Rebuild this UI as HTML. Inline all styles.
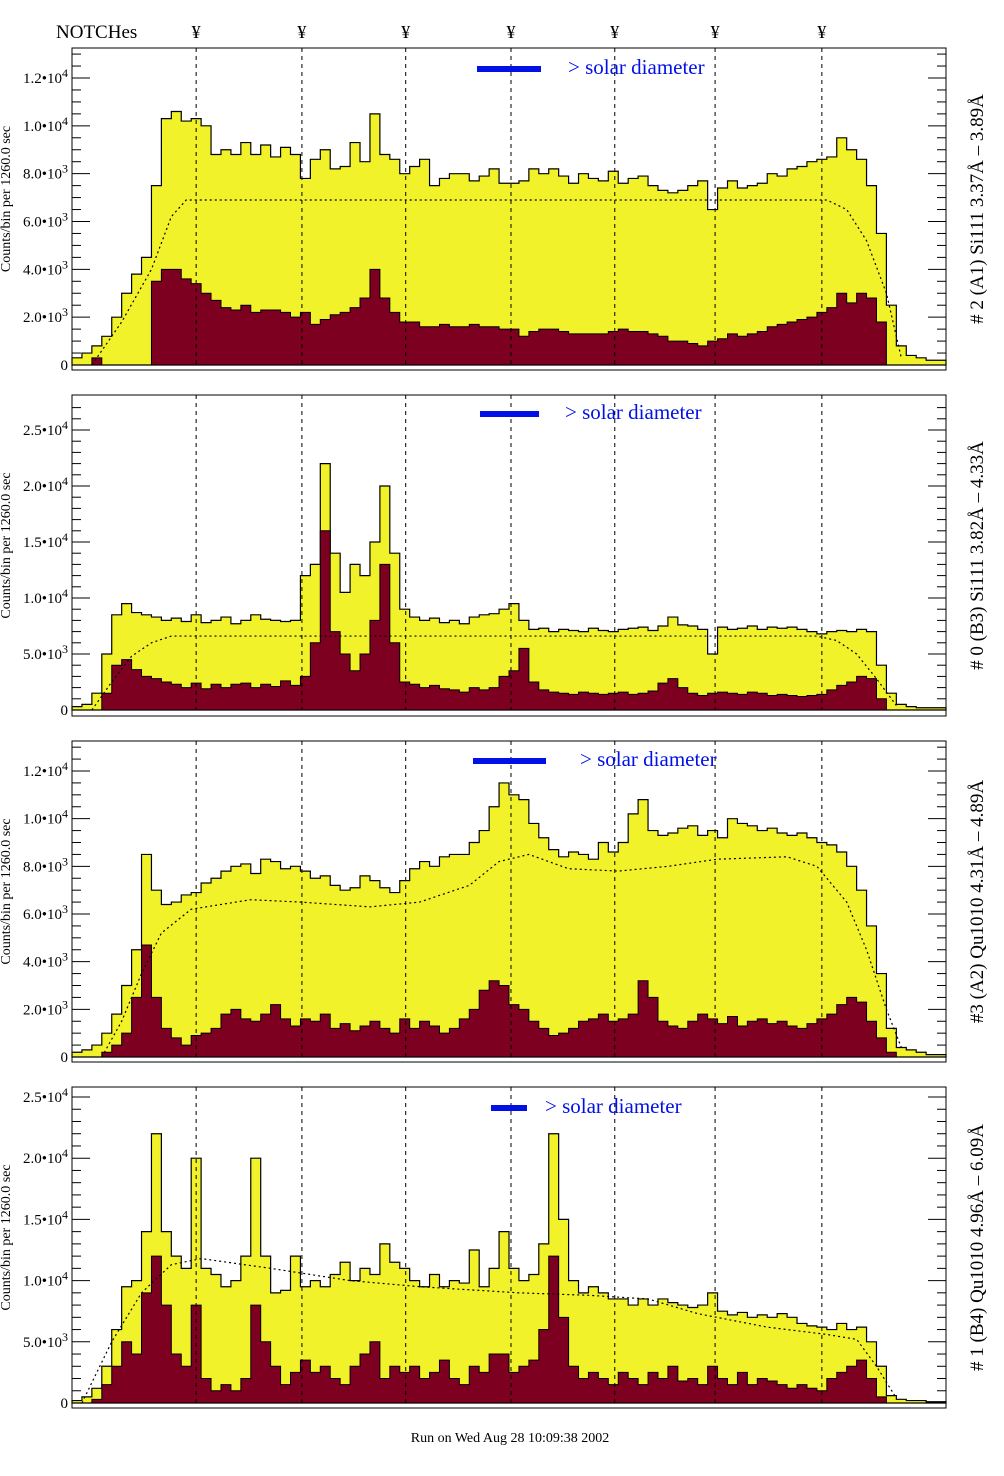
<!DOCTYPE html>
<html><head><meta charset="utf-8"><style>
html,body{margin:0;padding:0;background:#fff;}
svg{display:block;font-family:"Liberation Serif",serif;}
</style></head><body>
<svg id="chart" width="1004" height="1476" viewBox="0 0 1004 1476" xmlns="http://www.w3.org/2000/svg">
<text x="56" y="38" font-size="19">NOTCHes</text>
<text x="510" y="1442" font-size="14" text-anchor="middle">Run on Wed Aug 28 10:09:38 2002</text>
</svg>
<script>
// ---- data (units of 1e3 counts per bin, bins of equal width across the x range) ----
const notchPositions = [12.5, 23.15, 33.6, 44.2, 54.65, 64.75, 75.5];
const p1Yellow = [0.3,0.5,0.8,1.2,2.0,3.0,3.8,4.5,7.5,10.3,10.6,10.2,10.3,10.0,8.8,9.0,8.8,9.3,8.8,9.2,8.7,9.1,8.8,7.8,8.6,9.0,8.2,8.3,9.3,8.5,10.5,8.8,8.6,8.0,8.3,8.6,7.5,7.8,8.0,8.0,7.7,7.9,8.2,7.6,7.6,7.7,8.2,8.0,8.2,7.9,7.6,8.0,7.8,7.7,8.1,7.6,7.8,7.9,7.5,7.3,7.2,7.3,7.5,7.7,6.5,7.4,7.7,7.4,7.5,7.6,8.0,7.9,8.2,8.3,8.5,8.6,8.7,9.5,9.0,8.6,7.5,5.5,2.5,0.8,0.4,0.3,0.2,0.2];
const p1Red = [0,0,0.3,0,0,0,0,0,3.5,4.0,4.0,3.6,3.4,3.0,2.7,2.4,2.3,2.5,2.2,2.3,2.3,2.2,2.0,2.2,1.7,1.9,2.1,2.2,2.4,2.8,4.0,2.8,2.2,1.8,1.8,1.6,1.6,1.7,1.6,1.6,1.7,1.6,1.6,1.5,1.5,1.2,1.4,1.5,1.5,1.4,1.3,1.3,1.3,1.3,1.4,1.5,1.4,1.4,1.3,1.2,1.0,1.0,0.9,0.8,1.0,1.1,1.3,1.2,1.3,1.4,1.6,1.7,1.8,1.9,2.0,2.2,2.4,3.0,2.6,3.0,2.8,1.8,0,0,0,0,0,0];
const p1DotX = [2,5,8,10,11.5,76,78,80,82,83.5];
const p1DotY = [0,1.8,4,6.2,6.9,6.9,6.5,5.2,3,0.3];

const p2Yellow = [0.3,0.5,1.5,5,8.5,9.5,8.7,8.5,8.3,8.0,8.2,7.9,8.5,7.8,8.0,8.3,7.7,8.0,8.5,8.1,8.0,7.9,8.0,12,13,22,14,10.5,13,12,15,20,14,9,8.3,8.0,8.2,7.8,8.0,7.7,8.3,8.5,8.6,9.0,9.5,8.0,7.2,7.3,7.0,7.2,7.1,7.0,7.3,7.1,7.0,7.2,7.3,7.4,7.1,7.5,8.3,7.6,7.5,7.2,5,7.4,7.2,7.3,7.5,7.2,7.4,7.3,7.4,7.2,7.0,6.8,7.0,7.1,7.0,7.2,7.0,4.0,1.5,0.5,0.3,0.2,0.2,0.2];
const p2Red = [0,0,0,1.5,4.0,4.5,3.6,3.0,2.8,2.5,2.3,2.0,2.4,1.9,2.3,2.0,2.3,2.4,2.0,2.3,2.1,2.6,2.2,3.0,6,16,7,5,3.5,5,8,13,6,2.5,2.3,2.0,2.2,1.9,1.8,1.6,2.0,1.8,2.0,3.0,3.5,5.5,2.5,1.8,1.6,1.5,1.4,1.6,1.5,1.4,1.5,1.6,1.4,1.5,1.7,2.4,2.8,2.0,1.5,1.3,1.5,1.6,1.5,1.4,1.6,1.5,1.3,1.4,1.3,1.2,1.3,1.4,1.8,2.2,2.5,3.0,2.8,1.0,0,0,0,0,0,0];
const p2DotX = [2,4,6,8,10,75,77,79,81,83];
const p2DotY = [0,2.5,4.8,6,6.6,6.6,6.2,5,2.8,0.4];

const p3Yellow = [0.2,0.3,0.5,1.0,1.8,3.0,4.5,8.5,7.0,6.4,6.5,6.8,6.9,7.3,7.5,7.8,8.0,8.1,7.7,8.3,8.2,7.9,8.0,7.8,7.5,7.6,7.2,7.0,7.1,7.6,7.4,7.1,6.9,7.4,7.9,8.2,8.0,8.4,8.5,8.5,9.0,9.5,10.5,11.5,11.0,10.8,9.8,9.2,8.7,8.4,8.6,8.5,8.3,9.0,8.6,9.0,10.2,10.8,9.5,9.3,9.4,9.6,9.7,9.3,9.5,9.2,10.0,9.8,9.7,9.5,9.6,9.4,9.3,9.4,9.2,9.0,8.9,8.6,8.0,7.0,5.5,3.5,1.2,0.4,0.3,0.2,0.1,0.1];
const p3Red = [0,0,0,0.2,0.5,1.0,2.5,4.7,2.5,1.2,0.8,0.5,0.9,1.0,1.2,1.8,2.0,1.6,1.5,1.8,2.2,1.6,1.3,1.6,1.5,1.8,1.2,1.4,1.1,1.3,1.5,1.2,1.0,1.6,1.2,1.5,1.3,1.0,1.2,1.6,2.0,2.8,3.2,3.0,2.2,2.0,1.5,1.2,0.9,1.0,1.2,1.5,1.6,1.8,1.5,1.6,1.8,3.2,2.5,1.5,1.3,1.2,1.5,1.8,1.6,1.4,1.7,1.3,1.5,1.6,1.4,1.5,1.3,1.2,1.4,1.6,1.8,2.2,2.5,2.3,1.5,0.8,0.2,0,0,0,0,0];
const p3DotX = [3,5,7,9,12,18,23,30,35,40,43,46,50,55,60,65,72,75,78,80,82,83.5];
const p3DotY = [0,1.5,3.5,5.2,6.2,6.6,6.5,6.3,6.5,7.2,8.2,8.5,7.9,7.8,8.0,8.3,8.4,8.0,6.5,4.5,2.0,0.4];

const p4Yellow = [0.2,0.5,1.2,3.0,6.0,9.5,10.0,14.0,22,14,12,11,20,11,10.5,9.5,10,12,20,12,9,9.2,12,9.5,10,9.5,10.5,11.5,10.0,11.0,10.5,13,11.5,11,10,9.5,10.5,9.5,10,9.8,12.5,9.5,11,14,11,10,10.5,13,22,15,10,9,9.5,9.0,8.5,8.5,8.0,8.5,8.0,8.5,8.2,8.0,7.8,8.0,9.0,7.5,7.2,7.4,7.0,7.2,7.0,7.3,7.0,6.5,6.3,6.2,6.0,6.5,6.0,6.2,5.0,3.0,0.6,0.3,0.2,0.2,0.1,0.1];
const p4Red = [0,0,0.3,1.5,3,5,4,9,12,8,4,3,8,2,1,1.5,1,2,8,5,3,1.5,2.5,3.5,2.5,3,2,1.5,3,4,5,2,3,2.5,3,2,2.5,3.5,2,1.5,3,2.5,4,4,2.5,3,3.5,6,12,7,3,2,2.5,2,1.5,2.5,2,1.5,2.5,2,3,1.8,2,1.5,3,2,1.5,2.5,1.5,2,1.8,1.5,1.2,1.5,1.2,1,2,2.5,3,3.5,2,0.5,0,0,0,0,0,0];
const p4DotX = [1,4,7,10,13,20,28,35,45,52,58,63,70,76,79,81,83];
const p4DotY = [0,5,9,11.3,11.8,11.0,10.0,9.5,9.0,8.8,8.5,7.3,6.2,5.6,5.2,3,0.4];

const tickA = [0,2,4,6,8,10,12];
const tickAMant = ["0","2.0","4.0","6.0","8.0","1.0","1.2"];
const tickAExp = ["","3","3","3","3","4","4"];
const tickB = [0,5,10,15,20,25];
const tickBMant = ["0","5.0","1.0","1.5","2.0","2.5"];
const tickBExp = ["","3","4","4","4","4"];

const panelTitles = ["# 2 (A1) Si111  3.37Å – 3.89Å","# 0 (B3) Si111  3.82Å – 4.33Å","#3 (A2) Qu1010  4.31Å – 4.89Å","# 1 (B4) Qu1010 4.96Å – 6.09Å"];

// ---- layout ----
const NS = "http://www.w3.org/2000/svg";
const svg = document.getElementById("chart");
const X0 = 72, X1 = 946, NB = 88, BW = (X1 - X0) / NB;
function xs(b){ return X0 + b * BW; }
const panels = [
 {top:48, bot:370, zero:365, ppu:(365-78)/12, yel:p1Yellow, red:p1Red, dx:p1DotX, dy:p1DotY, ticks:tickA, tm:tickAMant, te:tickAExp, minor:0.5, max:13, bar:[477,541,69], sd:568},
 {top:395, bot:716, zero:710, ppu:(710-430)/25, yel:p2Yellow, red:p2Red, dx:p2DotX, dy:p2DotY, ticks:tickB, tm:tickBMant, te:tickBExp, minor:1, max:27.5, bar:[480,539,414], sd:565},
 {top:741, bot:1062, zero:1057, ppu:(1057-771)/12, yel:p3Yellow, red:p3Red, dx:p3DotX, dy:p3DotY, ticks:tickA, tm:tickAMant, te:tickAExp, minor:0.5, max:13, bar:[473,546,761], sd:580},
 {top:1087, bot:1408, zero:1403, ppu:(1403-1097)/25, yel:p4Yellow, red:p4Red, dx:p4DotX, dy:p4DotY, ticks:tickB, tm:tickBMant, te:tickBExp, minor:1, max:25.5, bar:[491,527,1108], sd:545}
];
function mk(tag, attrs, parent){ const e = document.createElementNS(NS, tag); for (const k in attrs) e.setAttribute(k, attrs[k]); (parent||svg).appendChild(e); return e; }

notchPositions.forEach((n) => {
  const t = mk("text", {x: xs(n), y: 38, "font-size": 18, "text-anchor": "middle"});
  t.textContent = "¥";
  
  
});

panels.forEach((p, pi) => {
  const g = mk("g", {});
  
  
  const ys = v => p.zero - v * p.ppu;
  function hist(arr){
    let d = "M" + X0 + "," + p.zero;
    arr.forEach((v, i) => { const y = Math.max(ys(v), p.top); d += " L" + xs(i) + "," + y + " L" + xs(i+1) + "," + y; });
    d += " L" + X1 + "," + p.zero + " Z";
    return d;
  }
  const yel = mk("path", {d: hist(p.yel), fill: "#f2f22a", stroke: "#000", "stroke-width": 1.2}, g);
  
  
  const red = mk("path", {d: hist(p.red), fill: "#7d0020", stroke: "#000", "stroke-width": 1}, g);
  
  
  let dd = "";
  p.dx.forEach((x, i) => { dd += (i ? " L" : "M") + xs(x) + "," + ys(p.dy[i]); });
  const dc = mk("path", {d: dd, fill: "none", stroke: "#000", "stroke-width": 1.2, "stroke-dasharray": "2,3"}, g);
  
  
  notchPositions.forEach((n) => {
    const l = mk("line", {x1: xs(n), x2: xs(n), y1: p.top, y2: p.zero, stroke: "#000", "stroke-width": 1, "stroke-dasharray": "4,4"}, g);
    
    
  });
  const fr = mk("rect", {x: X0, y: p.top, width: X1 - X0, height: p.bot - p.top, fill: "none", stroke: "#000", "stroke-width": 1}, g);
  
  
  for (let v = 0; v <= p.max + 1e-9; v += p.minor) {
    const y = ys(v);
    if (y < p.top) break;
    const major = p.ticks.some(t => Math.abs(t - v) < 1e-6);
    const len = major ? 18 : 9;
    mk("line", {x1: X0, x2: X0 + len, y1: y, y2: y, stroke: "#000", "stroke-width": 1}, g);
    mk("line", {x1: X1 - len, x2: X1, y1: y, y2: y, stroke: "#000", "stroke-width": 1}, g);
  }
  p.ticks.forEach((v, i) => {
    const t = mk("text", {x: 68, y: ys(v) + 5, "font-size": 15, "text-anchor": "end"}, g);
    
    
    if (p.te[i] === "") { t.textContent = p.tm[i]; }
    else {
      const a = document.createElementNS(NS, "tspan"); a.textContent = p.tm[i] + "•10"; t.appendChild(a);
      const b = document.createElementNS(NS, "tspan"); b.setAttribute("dy", "-6"); b.setAttribute("font-size", "12"); b.textContent = p.te[i]; t.appendChild(b);
    }
  });
  const yt = mk("text", {x: 0, y: 0, "font-size": 14, "text-anchor": "middle", transform: "translate(10," + ((p.top + p.bot) / 2 - 10) + ") rotate(-90)"}, g);
  yt.textContent = "Counts/bin per    1260.0 sec";
  
  
  const rt = mk("text", {x: 0, y: 0, "font-size": 19, "text-anchor": "middle", transform: "translate(983," + ((p.top + p.bot) / 2) + ") rotate(-90)"}, g);
  rt.textContent = panelTitles[pi];
  
  
  const sb = mk("rect", {x: p.bar[0], y: p.bar[2] - 3, width: p.bar[1] - p.bar[0], height: 6, fill: "#0010e6"}, g);
  
  
  const st = mk("text", {x: p.sd, y: p.bar[2] + 5, "font-size": 21, fill: "#0010e6"}, g);
  st.textContent = "> solar diameter";
  
  
});
</script>
</body></html>
